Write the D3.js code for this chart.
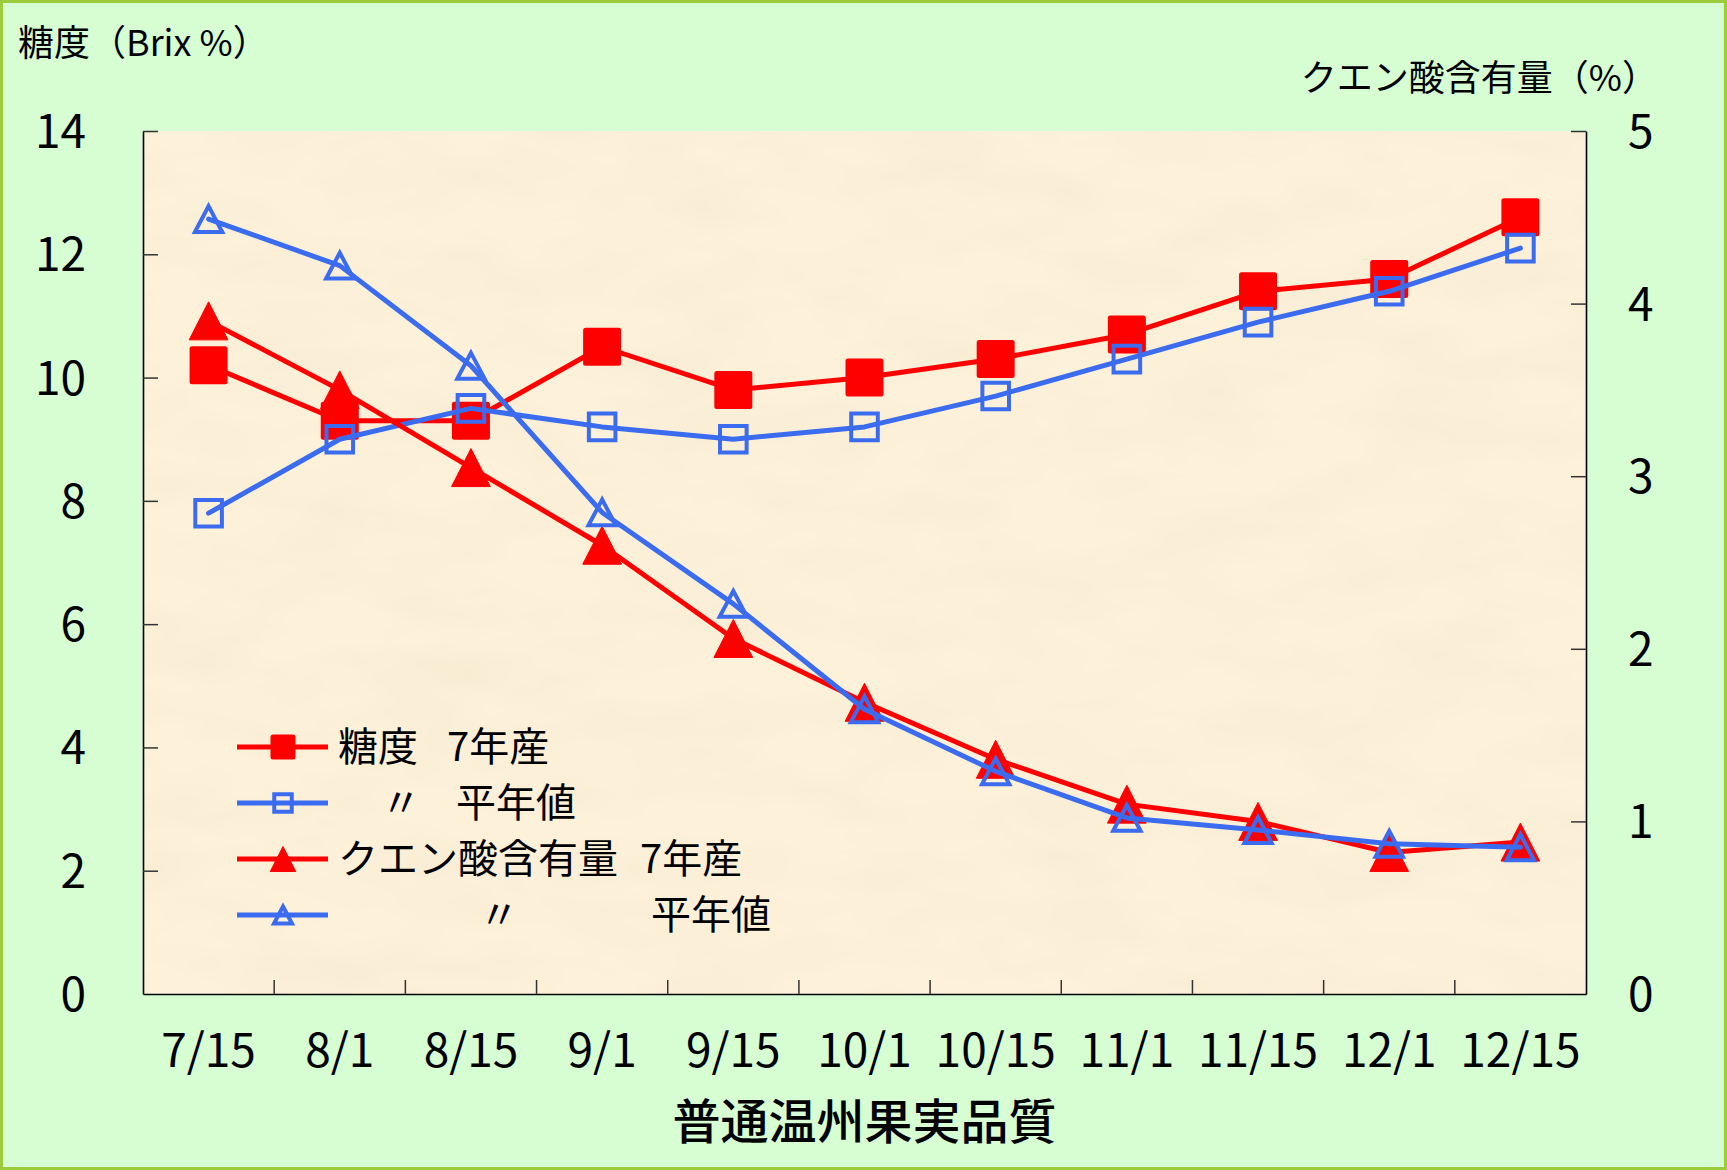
<!DOCTYPE html>
<html lang="ja">
<head>
<meta charset="utf-8">
<script src="https://cdn.jsdelivr.net/npm/d3@7"></script>
<style>
  html, body { margin: 0; padding: 0; background: #d7fdd3; }
  svg { display: block; }
  text { font-family: "Noto Sans CJK JP", "Noto Sans", sans-serif; fill: #000; }
</style>
</head>
<body>
<svg id="chart" width="1727" height="1170"></svg>
<script>
// Harvest dates (x categories)
const categories = ["7/15", "8/1", "8/15", "9/1", "9/15", "10/1", "10/15", "11/1", "11/15", "12/1", "12/15"];

// Sugar content, Brix % (left axis)
const sugarThisYear = [10.2, 9.3, 9.3, 10.5, 9.8, 10.0, 10.3, 10.7, 11.4, 11.6, 12.6];
const sugarNormal   = [7.8, 9.0, 9.5, 9.2, 9.0, 9.2, 9.7, 10.3, 10.9, 11.4, 12.1];

// Citric acid content, % (right axis)
const acidThisYear = [3.9, 3.5, 3.05, 2.6, 2.06, 1.69, 1.36, 1.1, 1.0, 0.82, 0.88];
const acidNormal   = [4.49, 4.22, 3.64, 2.79, 2.26, 1.65, 1.29, 1.02, 0.95, 0.87, 0.85];

// Axis ticks
const leftTicks = [0, 2, 4, 6, 8, 10, 12, 14];
const rightTicks = [0, 1, 2, 3, 4, 5];

const W = 1727, H = 1170;
const plot = { left: 143, right: 1586, top: 131, bottom: 994 };
const RED = "#ff0000", BLUE = "#3b6cf0";

const svg = d3.select("#chart");

// texture for the plot area
const defs = svg.append("defs");
const f = defs.append("filter").attr("id", "paper")
  .attr("x", 0).attr("y", 0).attr("width", 1).attr("height", 1);
f.append("feTurbulence").attr("type", "fractalNoise")
  .attr("baseFrequency", "0.008 0.02").attr("numOctaves", 3).attr("seed", 7);
f.append("feColorMatrix").attr("type", "matrix")
  .attr("values", "0 0 0 0 0.80  0 0 0 0 0.70  0 0 0 0 0.50  0.35 0 0 0 -0.12");
defs.append("clipPath").attr("id", "plotClip").append("rect")
  .attr("x", plot.left).attr("y", plot.top)
  .attr("width", plot.right - plot.left).attr("height", plot.bottom - plot.top);

// outer background and frame
svg.append("rect").attr("x", 1.5).attr("y", 1.5).attr("width", W - 3).attr("height", H - 3)
  .attr("fill", "#d7fdd3").attr("stroke", "#9ccc3c").attr("stroke-width", 3);

// plot background
svg.append("rect").attr("x", plot.left).attr("y", plot.top)
  .attr("width", plot.right - plot.left).attr("height", plot.bottom - plot.top)
  .attr("fill", "#fdf1da");
svg.append("rect").attr("x", plot.left).attr("y", plot.top)
  .attr("width", plot.right - plot.left).attr("height", plot.bottom - plot.top)
  .attr("filter", "url(#paper)").attr("clip-path", "url(#plotClip)");

// scales
const x = d3.scaleBand().domain(categories).range([plot.left, plot.right]).padding(0);
const cx = c => x(c) + x.bandwidth() / 2;
const yL = d3.scaleLinear().domain([0, 14]).range([plot.bottom, plot.top]);
const yR = d3.scaleLinear().domain([0, 5]).range([plot.bottom, plot.top]);

// left axis
const gL = svg.append("g").attr("transform", `translate(${plot.left},0)`)
  .call(d3.axisLeft(yL).tickValues(leftTicks).tickFormat(d3.format("d"))
    .tickSizeInner(-15).tickSizeOuter(0).tickPadding(57));
// right axis
const gR = svg.append("g").attr("transform", `translate(${plot.right},0)`)
  .call(d3.axisRight(yR).tickValues(rightTicks).tickFormat(d3.format("d"))
    .tickSizeInner(-15).tickSizeOuter(0).tickPadding(42));
// bottom axis (labels at band centres)
const gB = svg.append("g").attr("transform", `translate(0,${plot.bottom})`)
  .call(d3.axisBottom(x).tickSize(0).tickSizeOuter(0));

[gL, gR, gB].forEach(g => {
  g.select(".domain").attr("stroke", "#000").attr("stroke-width", 1.6);
  g.selectAll(".tick line").attr("stroke", "#333").attr("stroke-width", 1.5);
  g.selectAll(".tick text")
    .style("font-family", '"Noto Sans CJK JP", sans-serif')
    .attr("font-size", 46).attr("fill", "#000");
});
gL.selectAll(".tick text").attr("dy", "0.36em");
gR.selectAll(".tick text").attr("dy", "0.36em");
gB.selectAll(".tick text").attr("y", 56).attr("dy", "0.36em");
gL.selectAll(".tick").filter(d => d === 0).select("line").remove();
gR.selectAll(".tick").filter(d => d === 0).select("line").remove();

// category separator ticks on the bottom axis
svg.append("g").selectAll("line").data(categories.slice(1)).join("line")
  .attr("x1", d => x(d)).attr("x2", d => x(d))
  .attr("y1", plot.bottom).attr("y2", plot.bottom - 14)
  .attr("stroke", "#333").attr("stroke-width", 1.5);

// marker shapes
function squarePath(s) { const h = s / 2; return `M${-h},${-h}H${h}V${h}H${-h}Z`; }
function trianglePath(w, h) { return `M0,${-h / 2}L${w / 2},${h / 2}L${-w / 2},${h / 2}Z`; }

const series = [
  { values: sugarThisYear, y: yL, color: RED, marker: "square", filled: true },
  { values: sugarNormal, y: yL, color: BLUE, marker: "square", filled: false },
  { values: acidThisYear, y: yR, color: RED, marker: "triangle", filled: true },
  { values: acidNormal, y: yR, color: BLUE, marker: "triangle", filled: false }
];

function drawMarker(g, s, size) {
  if (s.marker === "square") {
    if (s.filled) {
      g.append("rect").attr("x", -size / 2).attr("y", -size / 2)
        .attr("width", size).attr("height", size).attr("rx", 2.5)
        .attr("fill", s.color);
    } else {
      g.append("path").attr("d", squarePath(size * 0.7))
        .attr("fill", "none").attr("stroke", s.color).attr("stroke-width", 4);
    }
  } else {
    if (s.filled) {
      g.append("path").attr("d", trianglePath(size * 1.02, size))
        .attr("fill", s.color).attr("stroke", s.color).attr("stroke-width", 1).attr("stroke-linejoin", "round");
    } else {
      g.append("path").attr("d", trianglePath(size * 0.72, size * 0.68))
        .attr("fill", "none").attr("stroke", s.color).attr("stroke-width", 4);
    }
  }
}

const line = yScale => d3.line().x((d, i) => cx(categories[i])).y(d => yScale(d));

series.forEach(s => {
  const g = svg.append("g");
  g.append("path").datum(s.values).attr("d", line(s.y))
    .attr("fill", "none").attr("stroke", s.color).attr("stroke-width", 5)
    .attr("stroke-linejoin", "round").attr("stroke-linecap", "round");
  s.values.forEach((v, i) => {
    const m = g.append("g").attr("transform", `translate(${cx(categories[i])},${s.y(v)})`);
    drawMarker(m, s, 38);
  });
});

// legend
const legendRows = [
  { s: series[0], parts: [["糖度", 338], ["7年産", 447]] },
  { s: series[1], parts: [["〃", 401, "middle"], ["平年値", 456]] },
  { s: series[2], parts: [["クエン酸含有量", 338], ["7年産", 640]] },
  { s: series[3], parts: [["〃", 499, "middle"], ["平年値", 651]] }
];
const legendY = [747, 803, 859, 915];
legendRows.forEach((r, i) => {
  const g = svg.append("g").attr("transform", `translate(0,${legendY[i]})`);
  g.append("line").attr("x1", 237).attr("x2", 328).attr("y1", 0).attr("y2", 0)
    .attr("stroke", r.s.color).attr("stroke-width", 5);
  const m = g.append("g").attr("transform", "translate(283,0)");
  drawMarker(m, r.s, 25);
  r.parts.forEach(([t, px, anchor]) => {
    g.append("text").attr("x", px).attr("y", 0).attr("dy", "0.36em")
      .attr("text-anchor", anchor || "start").attr("font-size", 40).text(t);
  });
});

// axis titles
svg.append("text").attr("x", 18).attr("y", 56).attr("font-size", 36).text("糖度（Brix %）");
svg.append("text").attr("x", 1658).attr("y", 91).attr("text-anchor", "end")
  .attr("font-size", 36).text("クエン酸含有量（%）");
svg.append("text").attr("x", (plot.left + plot.right) / 2).attr("y", 1122).attr("dy", "0.36em")
  .attr("text-anchor", "middle").attr("font-size", 48).attr("font-weight", 500).text("普通温州果実品質");
</script>
</body>
</html>
